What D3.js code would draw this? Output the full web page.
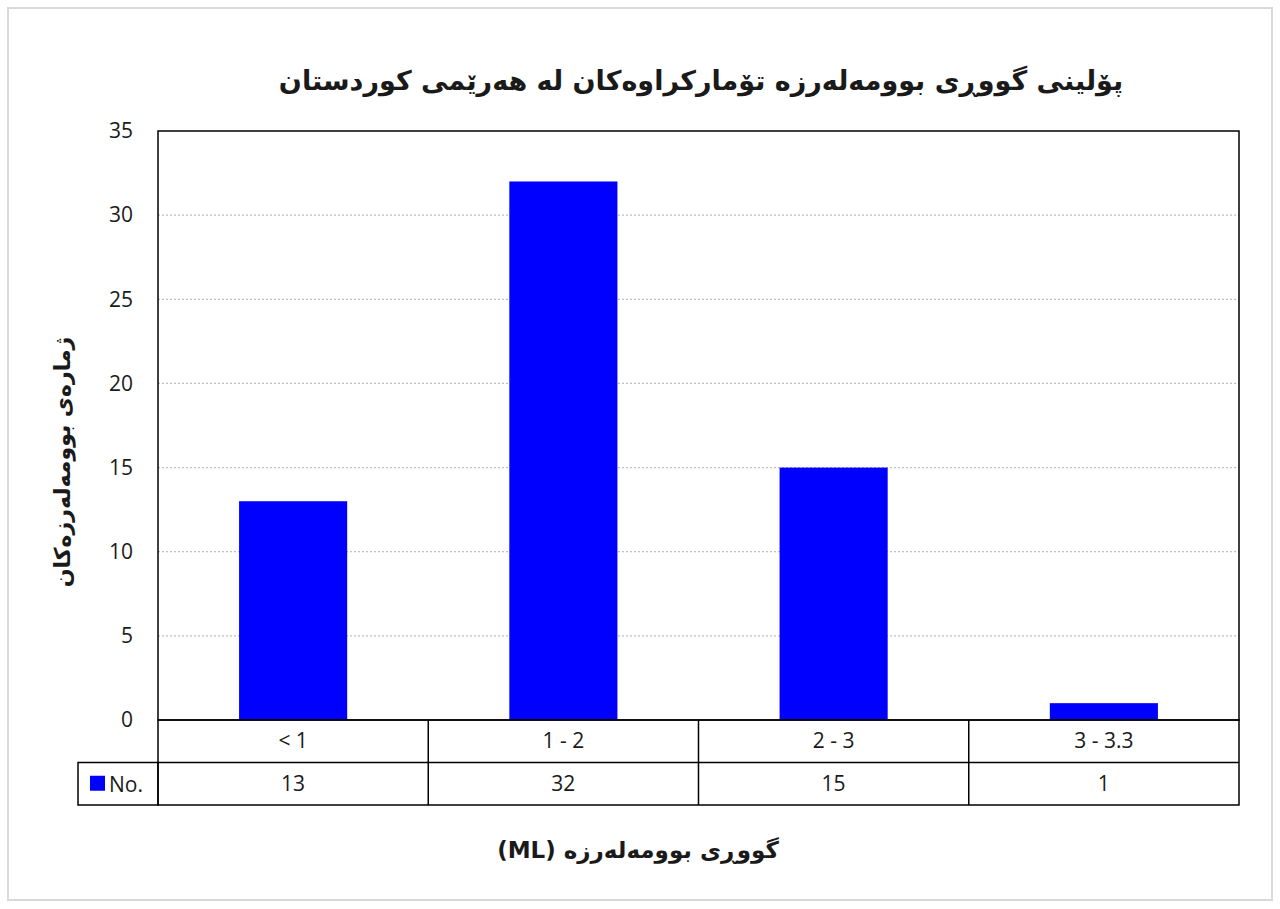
<!DOCTYPE html>
<html>
<head>
<meta charset="utf-8">
<script src="https://cdn.jsdelivr.net/npm/d3@7"></script>
<style>
  body { margin: 0; background: #fff; }
  text { font-family: "Open Sans", "DejaVu Sans", sans-serif; fill: #1a1a1a; }
  .ar { font-family: "DejaVu Sans", "Noto Sans", sans-serif; font-weight: bold; }
</style>
</head>
<body>
<svg width="1280" height="909"></svg>
<script>
// chart data
var categories = ["< 1", "1 - 2", "2 - 3", "3 - 3.3"];
var counts = [13, 32, 15, 1];
var yTicks = [0, 5, 10, 15, 20, 25, 30, 35];
var seriesName = "No.";
var titleText = "پۆلینی گووڕی بوومەلەرزە تۆمارکراوەکان لە هەرێمی کوردستان";
var yLabel = "ژمارەی بوومەلەرزەکان";
var xLabel = "گووڕی بوومەلەرزە (ML)";

var svg = d3.select("svg");
var plotL = 158, plotR = 1239, plotT = 131, plotB = 720;
var rowH = 42.5;
var fs = "21px";

// outer frame
svg.append("rect").attr("x", 8).attr("y", 8).attr("width", 1264).attr("height", 892)
  .attr("fill", "#fff").attr("stroke", "#d9d9d9").attr("stroke-width", 2);

var x = d3.scaleBand().domain(categories).range([plotL, plotR]).paddingInner(0).paddingOuter(0);
var y = d3.scaleLinear().domain([0, 35]).range([plotB, plotT]);

// gridlines
svg.append("g").selectAll("line").data(yTicks.filter(function(d){ return d > 0 && d < 35; }))
  .enter().append("line")
  .attr("x1", plotL).attr("x2", plotR)
  .attr("y1", function(d){ return y(d); }).attr("y2", function(d){ return y(d); })
  .attr("stroke", "#bfbfbf").attr("stroke-width", 1.2).attr("stroke-dasharray", "2,2");

// bars
var bw = x.bandwidth() * 0.4;
svg.append("g").selectAll("rect").data(counts).enter().append("rect")
  .attr("x", function(d, i){ return x(categories[i]) + (x.bandwidth() - bw) / 2; })
  .attr("y", function(d){ return y(d); })
  .attr("width", bw)
  .attr("height", function(d){ return y(0) - y(d); })
  .attr("fill", "#0000ff");

// plot frame
svg.append("rect").attr("x", plotL).attr("y", plotT).attr("width", plotR - plotL).attr("height", plotB - plotT)
  .attr("fill", "none").attr("stroke", "#000").attr("stroke-width", 1.5);

// y axis
var yAxis = d3.axisLeft(y).tickValues(yTicks).tickSize(0).tickPadding(25);
var ya = svg.append("g").attr("transform", "translate(" + plotL + ",0)").call(yAxis);
ya.select(".domain").remove();
ya.selectAll("text").style("font-size", fs).attr("fill", "#1a1a1a")
  .style("font-family", "'Open Sans', 'DejaVu Sans', sans-serif");

// data table
var tbl = svg.append("g").attr("fill", "none").attr("stroke", "#000").attr("stroke-width", 1.5);
tbl.append("rect").attr("x", plotL).attr("y", plotB).attr("width", plotR - plotL).attr("height", rowH * 2);
tbl.append("rect").attr("x", 78).attr("y", plotB + rowH).attr("width", plotL - 78).attr("height", rowH);
tbl.append("line").attr("x1", plotL).attr("x2", plotR).attr("y1", plotB + rowH).attr("y2", plotB + rowH);
tbl.selectAll("line.v").data(categories.slice(1)).enter().append("line")
  .attr("x1", function(d){ return x(d); }).attr("x2", function(d){ return x(d); })
  .attr("y1", plotB).attr("y2", plotB + rowH * 2);

svg.append("g").selectAll("text").data(categories).enter().append("text")
  .attr("x", function(d){ return x(d) + x.bandwidth() / 2; })
  .attr("y", plotB + rowH / 2 + 7)
  .attr("text-anchor", "middle").style("font-size", fs)
  .text(function(d){ return d; });

svg.append("g").selectAll("text").data(counts).enter().append("text")
  .attr("x", function(d, i){ return x(categories[i]) + x.bandwidth() / 2; })
  .attr("y", plotB + rowH * 1.5 + 7)
  .attr("text-anchor", "middle").style("font-size", fs)
  .text(function(d){ return d; });

// legend key in table
svg.append("rect").attr("x", 90).attr("y", plotB + rowH * 1.5 - 8).attr("width", 15).attr("height", 15).attr("fill", "#0000ff");
svg.append("text").attr("x", 109).attr("y", plotB + rowH * 1.5 + 8).style("font-size", fs).text(seriesName);

// title and axis labels
svg.append("text").attr("class", "ar").attr("x", 701).attr("y", 90)
  .attr("text-anchor", "middle").attr("direction", "rtl").style("font-size", "27px").text(titleText);

svg.append("text").attr("class", "ar")
  .attr("transform", "translate(70,462) rotate(-90)")
  .attr("text-anchor", "middle").attr("direction", "rtl").style("font-size", "22px").text(yLabel);

svg.append("text").attr("class", "ar").attr("x", 638).attr("y", 858)
  .attr("text-anchor", "middle").attr("direction", "rtl").style("font-size", "23px").text(xLabel);
</script>
</body>
</html>
